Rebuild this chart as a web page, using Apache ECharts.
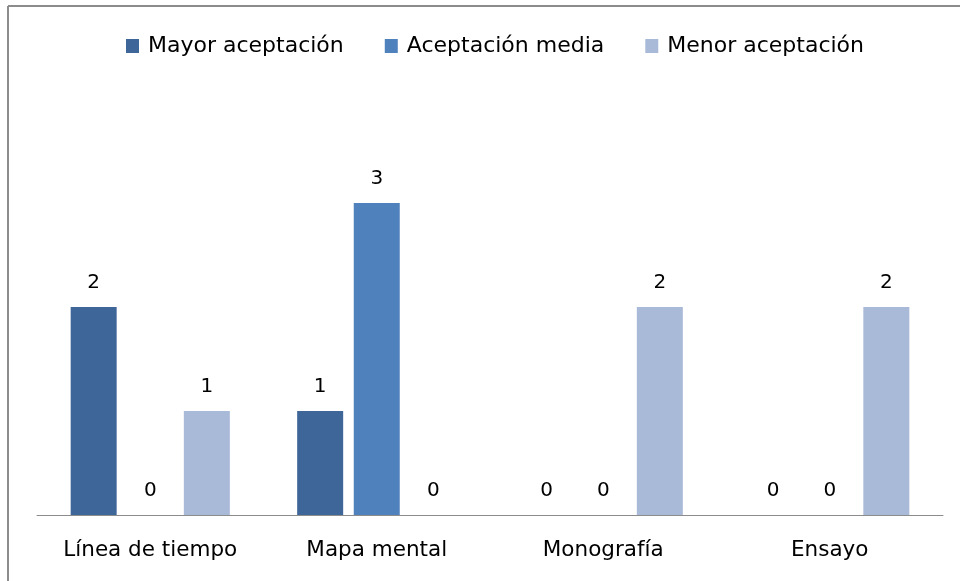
<!DOCTYPE html>
<html>
<head>
<meta charset="utf-8">
<script src="https://cdn.jsdelivr.net/npm/echarts@6/dist/echarts.min.js"></script>
<style>
  html, body { margin: 0; padding: 0; background: #fff; }
  #chart { width: 960px; height: 581px; }
</style>
</head>
<body>
<div id="chart"></div>
<script>
const categories = ['Línea de tiempo', 'Mapa mental', 'Monografía', 'Ensayo']
const seriesNames = ['Mayor aceptación', 'Aceptación media', 'Menor aceptación']
const mayor = [2, 1, 0, 0]
const media = [0, 3, 0, 0]
const menor = [1, 0, 2, 2]

const colors = ['#3E6698', '#4F81BD', '#A9BAD8']
const font = 'DejaVu Sans'

const chart = echarts.init(document.getElementById('chart'))

function barSeries (name, data, color) {
  return {
    name: name,
    type: 'bar',
    barWidth: 46,
    barGap: '23%',
    itemStyle: { color: color },
    label: {
      show: true,
      position: 'top',
      distance: 14,
      color: '#000',
      fontFamily: font,
      fontSize: 20
    },
    data: data
  }
}

chart.setOption({
  animation: false,
  color: colors,
  graphic: [
    { type: 'line', shape: { x1: 8, y1: 6, x2: 960, y2: 6 }, style: { stroke: '#8c8c8c', lineWidth: 2 } },
    { type: 'line', shape: { x1: 8, y1: 6, x2: 8, y2: 581 }, style: { stroke: '#8c8c8c', lineWidth: 2 } }
  ],
  legend: {
    top: 30,
    left: 121,
    itemWidth: 13,
    itemHeight: 14,
    itemGap: 41,
    icon: 'rect',
    textStyle: { fontFamily: font, fontSize: 22, color: '#000', padding: [0, 0, 0, 4] },
    data: seriesNames
  },
  grid: {
    left: 37,
    right: 17,
    top: 99,
    bottom: 66
  },
  xAxis: {
    type: 'category',
    data: categories,
    axisTick: { show: false },
    axisLine: { lineStyle: { color: '#8c8c8c', width: 1 } },
    axisLabel: {
      color: '#000',
      fontFamily: font,
      fontSize: 21.5,
      margin: 24
    }
  },
  yAxis: {
    type: 'value',
    min: 0,
    max: 4,
    interval: 1,
    show: false
  },
  series: [
    barSeries(seriesNames[0], mayor, colors[0]),
    barSeries(seriesNames[1], media, colors[1]),
    barSeries(seriesNames[2], menor, colors[2])
  ]
})
</script>
</body>
</html>
